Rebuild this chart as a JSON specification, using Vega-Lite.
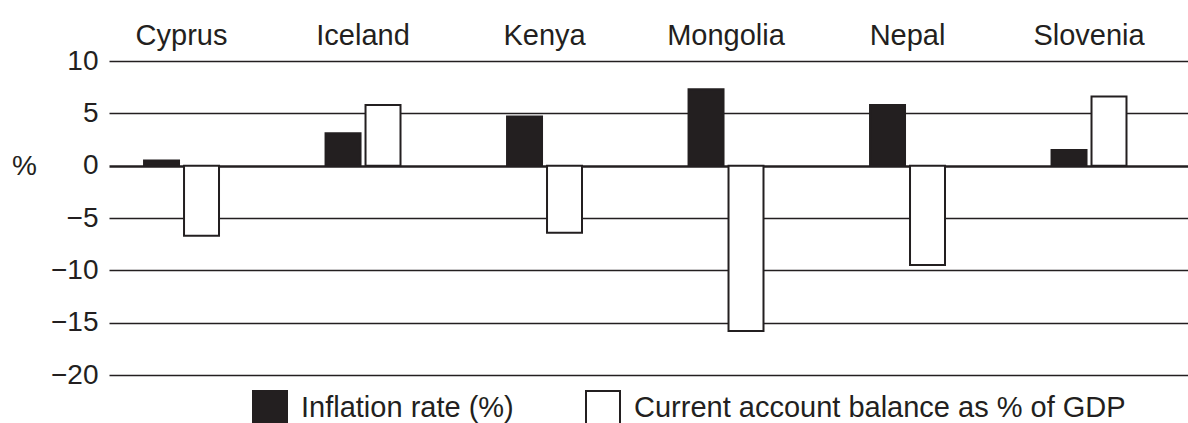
{
  "$schema": "https://vega.github.io/schema/vega-lite/v6.json",
  "autosize": {"type": "none"},
  "padding": {"left": 109, "top": 61, "right": 0, "bottom": 48},
  "width": 1079,
  "height": 314,
  "background": "white",
  "config": {
    "view": {"stroke": null},
    "font": "Liberation Sans",
    "axis": {"labelColor": "#231f20", "titleColor": "#231f20", "labelFont": "Liberation Sans", "titleFont": "Liberation Sans"},
    "legend": {"labelColor": "#231f20", "labelFont": "Liberation Sans"}
  },
  "data": {
    "values": [
      {"country": "Cyprus", "series": "Inflation rate (%)", "value": 0.5},
      {"country": "Cyprus", "series": "Current account balance as % of GDP", "value": -6.7},
      {"country": "Iceland", "series": "Inflation rate (%)", "value": 3.1},
      {"country": "Iceland", "series": "Current account balance as % of GDP", "value": 5.8},
      {"country": "Kenya", "series": "Inflation rate (%)", "value": 4.7},
      {"country": "Kenya", "series": "Current account balance as % of GDP", "value": -6.4},
      {"country": "Mongolia", "series": "Inflation rate (%)", "value": 7.3},
      {"country": "Mongolia", "series": "Current account balance as % of GDP", "value": -15.8},
      {"country": "Nepal", "series": "Inflation rate (%)", "value": 5.8},
      {"country": "Nepal", "series": "Current account balance as % of GDP", "value": -9.5},
      {"country": "Slovenia", "series": "Inflation rate (%)", "value": 1.5},
      {"country": "Slovenia", "series": "Current account balance as % of GDP", "value": 6.6}
    ]
  },
  "mark": {"type": "bar", "stroke": "#231f20", "strokeWidth": 2},
  "encoding": {
    "x": {
      "field": "country",
      "type": "nominal",
      "sort": null,
      "scale": {"paddingInner": 0.587, "paddingOuter": 0.266, "align": 0.363},
      "axis": {
        "orient": "top",
        "title": null,
        "domain": false,
        "ticks": false,
        "grid": false,
        "labelAngle": 0,
        "labelFontSize": 29,
        "labelPadding": 11
      }
    },
    "xOffset": {
      "field": "series",
      "type": "nominal",
      "sort": ["Inflation rate (%)", "Current account balance as % of GDP"],
      "scale": {"paddingInner": 0.125, "paddingOuter": 0}
    },
    "y": {
      "field": "value",
      "type": "quantitative",
      "scale": {"domain": [-20, 10], "nice": false, "zero": false},
      "axis": {
        "values": [-20, -15, -10, -5, 0, 5, 10],
        "domain": false,
        "ticks": false,
        "grid": true,
        "gridColor": "#231f20",
        "gridWidth": {"condition": {"test": "datum.value === 0", "value": 2.5}, "value": 1.3},
        "labelFontSize": 28,
        "labelPadding": 11,
        "title": "%",
        "titleAngle": 0,
        "titleFontSize": 28,
        "titleFontWeight": "normal",
        "titleAlign": "center",
        "titleBaseline": "middle",
        "titleX": -85,
        "titleY": 105
      }
    },
    "color": {
      "field": "series",
      "type": "nominal",
      "scale": {
        "domain": ["Inflation rate (%)", "Current account balance as % of GDP"],
        "range": ["#231f20", "#ffffff"]
      },
      "legend": {
        "title": null,
        "orient": "none",
        "legendX": 143,
        "legendY": 329,
        "direction": "horizontal",
        "symbolType": "square",
        "symbolSize": 1156,
        "symbolStrokeColor": "#231f20",
        "symbolStrokeWidth": 2,
        "symbolOpacity": 1,
        "labelFontSize": 29,
        "labelOffset": 13,
        "columnPadding": 68,
        "labelLimit": 700
      }
    }
  }
}
